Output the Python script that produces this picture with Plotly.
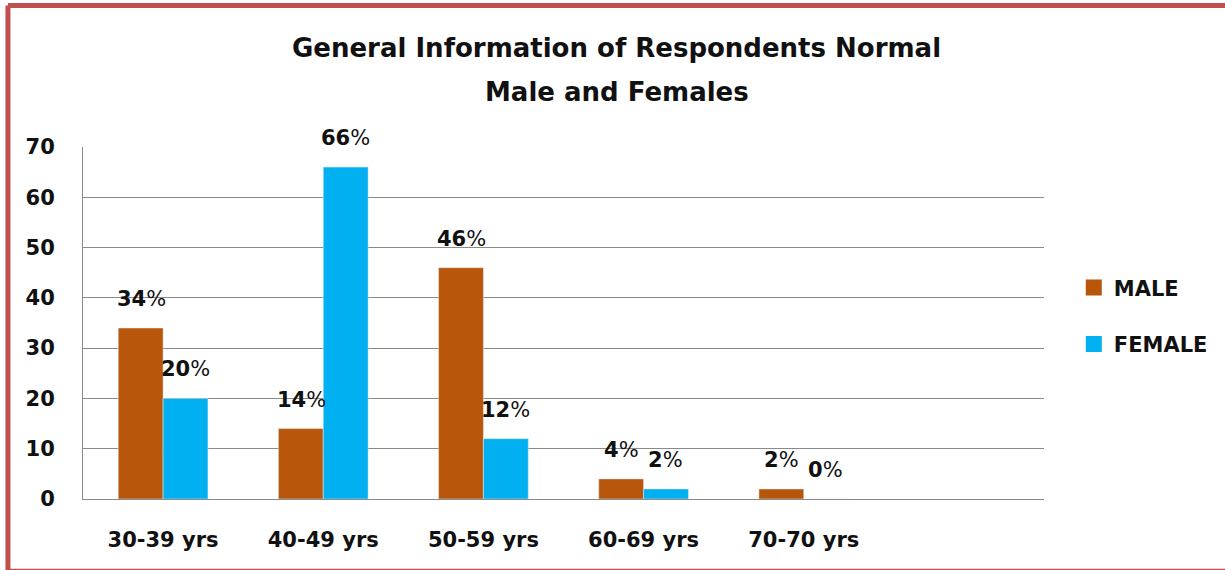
import plotly.graph_objects as go

# age groups (last slot is an empty category, as in the original chart)
age_groups = ['30-39 yrs', '40-49 yrs', '50-59 yrs', '60-69 yrs', '70-70 yrs', ' ']
male = [34, 14, 46, 4, 2, None]
female = [20, 66, 12, 2, 0, None]
male_labels = ['34', '14', '46', '4', '2']
female_labels = ['20', '66', '12', '2', '0']

MALE_COL = '#B8560B'
FEMALE_COL = '#00B0F0'
FRAME_COL = '#C0504D'
FONT = 'DejaVu Sans'

fig = go.Figure()
fig.add_trace(go.Bar(x=age_groups, y=male, name='MALE', marker_color=MALE_COL, showlegend=False))
fig.add_trace(go.Bar(x=age_groups, y=female, name='FEMALE', marker_color=FEMALE_COL, showlegend=False))

# legend entries with bigger square swatches
for nm, col in [('MALE', MALE_COL), ('FEMALE', FEMALE_COL)]:
    fig.add_trace(go.Scatter(x=[None], y=[None], mode='markers', name='<b>' + nm + '</b>',
                             legendgroup=nm,
                             marker=dict(symbol='square', size=16, color=col)))

# data labels: bold number, normal-weight percent sign
for cat, v, lab in zip(age_groups, male, male_labels):
    fig.add_annotation(x=cat, y=v, text='<b>' + lab + '</b>%', showarrow=False,
                       xshift=-22, yshift=29, yanchor='middle', font=dict(size=21, color='#111'))
for cat, v, lab in zip(age_groups, female, female_labels):
    fig.add_annotation(x=cat, y=v, text='<b>' + lab + '</b>%', showarrow=False,
                       xshift=22, yshift=29, yanchor='middle', font=dict(size=21, color='#111'))

# title, two lines
fig.add_annotation(xref='paper', yref='paper', x=0.5555, y=1.281, yanchor='middle',
                   text='<b>General Information of Respondents Normal</b>',
                   showarrow=False, font=dict(size=26, color='#111'))
fig.add_annotation(xref='paper', yref='paper', x=0.5555, y=1.156, yanchor='middle',
                   text='<b>Male and Females</b>',
                   showarrow=False, font=dict(size=26, color='#111'))

# red frame (left, top, bottom edges; right edge is off the picture)
fx0, fx1 = -0.0781, 1.19
fig.add_shape(type='line', xref='paper', yref='paper', x0=fx0, y0=1.402, x1=fx0, y1=-0.205,
              line=dict(color=FRAME_COL, width=5), layer='below')
for fy in [1.402, -0.205]:
    fig.add_shape(type='line', xref='paper', yref='paper', x0=fx0, y0=fy, x1=fx1, y1=fy,
                  line=dict(color=FRAME_COL, width=5), layer='below')

fig.update_layout(
    width=1225, height=570,
    margin=dict(l=83, r=177, t=147, b=71),
    paper_bgcolor='white', plot_bgcolor='white',
    font=dict(family=FONT, color='#111'),
    barmode='group', bargap=0.44, bargroupgap=0,
    legend=dict(x=1.031, y=0.52, xanchor='left', yanchor='middle',
                font=dict(size=21), tracegroupgap=26, itemwidth=30,
                bgcolor='rgba(0,0,0,0)'),
    showlegend=True,
)
fig.update_xaxes(showline=True, linecolor='#8a8a8a', linewidth=1, ticks='',
                 tickvals=age_groups, ticktext=['<b>' + a + '</b>' for a in age_groups],
                 tickfont=dict(size=21), ticklabelstandoff=22)
fig.update_yaxes(range=[0, 70], dtick=10, showgrid=True, gridcolor='#8a8a8a', gridwidth=1,
                 showline=True, linecolor='#8a8a8a', linewidth=1, zeroline=False,
                 tickfont=dict(size=21), tickprefix='<b>', ticksuffix='</b>', ticklabelstandoff=23)

fig.write_html('out.html', config={'displayModeBar': False},
               post_script="document.body.style.margin='0';")
